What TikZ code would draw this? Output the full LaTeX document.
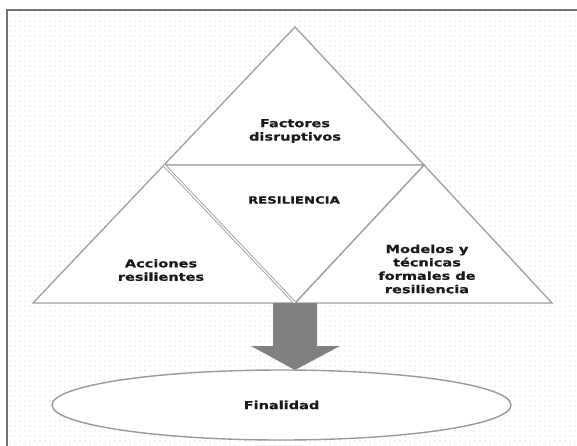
\documentclass[tikz,border=0pt]{standalone}
\usepackage{fontspec}
\newfontfamily\lbl{DejaVu Sans}[FakeStretch=1.32,BoldFeatures={FakeBold=0.6}]
\usetikzlibrary{patterns.meta,shapes.geometric,arrows.meta}
\begin{document}
\begin{tikzpicture}[x=1pt,y=-1pt,
  edge/.style={draw=black!38,line width=1.3pt,line join=miter},
  lab/.style={font=\lbl\bfseries\fontsize{11}{13.4}\selectfont,align=center,text=black!90,inner sep=0pt}]
\useasboundingbox (0,0) rectangle (577,446);
% background
\fill[white] (0,0) rectangle (577,446);
\fill[pattern={Dots[distance=5pt,radius=0.7pt]},pattern color=black!20] (7,10) rectangle (577,446);
\draw[black!55,line width=1.6pt] (577,10) -- (7,10) -- (7,446);
% triangles
\coordinate (T) at (295,27);
\coordinate (BL) at (164,165);
\coordinate (BR) at (424,165);
\coordinate (L) at (33,303);
\coordinate (M) at (295,303);
\coordinate (R) at (552,303);
\filldraw[edge,fill=white] (T) -- (BR) -- (BL) -- cycle;
\filldraw[edge,fill=white] (BL) -- (L) -- (M) -- cycle;
\filldraw[edge,fill=white] (BR) -- (M) -- (R) -- cycle;
\filldraw[edge,fill=white] (BL) -- (BR) -- (M);
\draw[black!38,line width=0.9pt,double=white,double distance=1.3pt] (BL) -- (M);
% arrow
\fill[black!50] (273,303) -- (317,303) -- (317,346) -- (340,346) -- (295,370) -- (251,346) -- (273,346) -- cycle;
% ellipse
\node[ellipse,draw=black!40,line width=1.4pt,fill=white,minimum width=459pt,minimum height=70pt,inner sep=0pt] (fin) at (281.5,405) {};
% labels
\node[lab] (fac) at (295,131) {Factores\\disruptivos};
\node[lab,font=\lbl\bfseries\fontsize{10}{13.4}\selectfont] (res) at (294,200) {RESILIENCIA};
\node[lab] (acc) at (161,270) {Acciones\\resilientes};
\node[lab] (mod) at (427,269) {Modelos y\\técnicas\\formales de\\resiliencia};
\node[lab] (finl) at (fin) {Finalidad};
\end{tikzpicture}
\end{document}
